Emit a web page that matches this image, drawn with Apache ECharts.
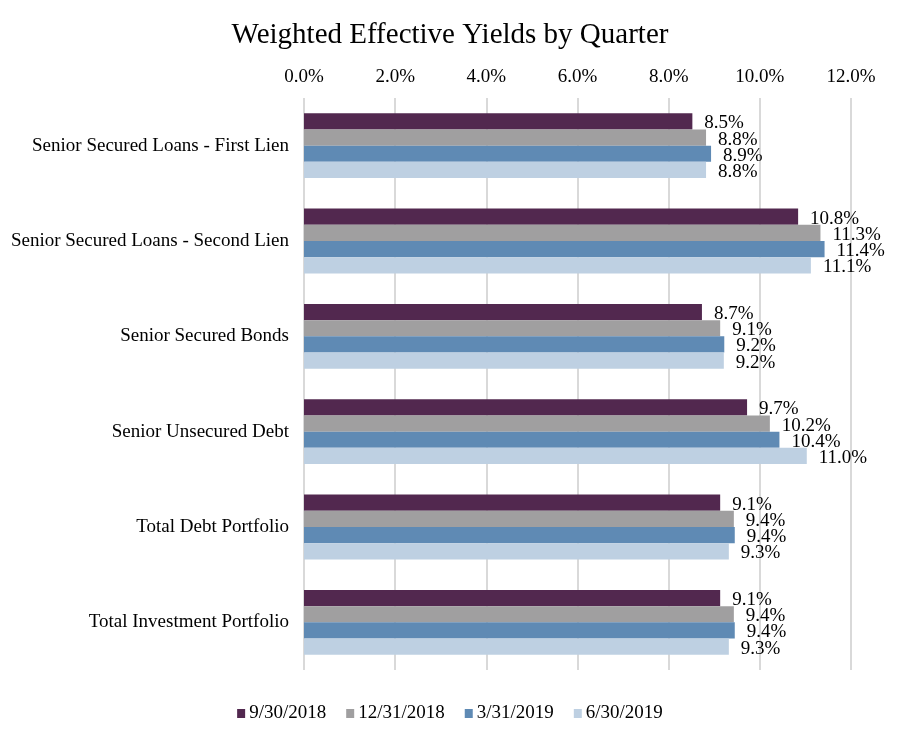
<!DOCTYPE html>
<html>
<head>
<meta charset="utf-8">
<script src="https://cdn.jsdelivr.net/npm/echarts@6/dist/echarts.min.js"></script>
<style>html,body{margin:0;padding:0;background:#fff;}#c{width:900px;height:739px;}</style>
</head>
<body>
<div id="c"></div>
<script>
const categories = [
  'Senior Secured Loans - First Lien',
  'Senior Secured Loans - Second Lien',
  'Senior Secured Bonds',
  'Senior Unsecured Debt',
  'Total Debt Portfolio',
  'Total Investment Portfolio'
];
const seriesNames = ['9/30/2018', '12/31/2018', '3/31/2019', '6/30/2019'];
const q3_2018 = [8.52, 10.84, 8.73, 9.72, 9.13, 9.13];
const q4_2018 = [8.82, 11.33, 9.13, 10.22, 9.43, 9.43];
const q1_2019 = [8.93, 11.42, 9.22, 10.43, 9.45, 9.45];
const q2_2019 = [8.82, 11.12, 9.21, 11.03, 9.32, 9.32];
const xTicks = { min: 0, max: 12, interval: 2 };
const colors = ['#52284F', '#A09FA0', '#5F8AB4', '#BED0E2'];

const font = 'Liberation Serif';
const chart = echarts.init(document.getElementById('c'));
const values = [q3_2018, q4_2018, q1_2019, q2_2019];
chart.setOption({
  animation: false,
  color: colors,
  title: {
    text: 'Weighted Effective Yields by Quarter',
    left: 'center',
    top: 16,
    textStyle: { fontFamily: font, fontSize: 29, fontWeight: 'normal', color: '#000' }
  },
  legend: {
    bottom: 11,
    left: 'center',
    icon: 'rect',
    itemWidth: 8,
    itemHeight: 9,
    itemGap: 20,
    textStyle: { fontFamily: font, fontSize: 19, color: '#000', padding: [0, 0, 0, -1] },
    data: seriesNames
  },
  grid: { left: 304, right: 49, top: 98, height: 572, containLabel: false },
  xAxis: {
    type: 'value',
    position: 'top',
    min: xTicks.min,
    max: xTicks.max,
    interval: xTicks.interval,
    axisLine: { show: false },
    axisTick: { show: false },
    axisLabel: {
      margin: 11,
      fontFamily: font, fontSize: 19, color: '#000',
      formatter: v => v.toFixed(1) + '%'
    },
    splitLine: { show: true, lineStyle: { color: '#D9D9D9', width: 2 } }
  },
  yAxis: {
    type: 'category',
    inverse: true,
    data: categories,
    axisLine: { show: false },
    axisTick: { show: false },
    axisLabel: { margin: 15, fontFamily: font, fontSize: 19, color: '#000' }
  },
  series: seriesNames.map((n, i) => ({
    name: n,
    type: 'bar',
    data: values[i],
    barGap: '0%',
    barCategoryGap: '32%',
    label: {
      show: true,
      position: 'right',
      distance: 12,
      offset: [0, 2],
      fontFamily: font, fontSize: 19, color: '#000',
      formatter: p => p.value.toFixed(1) + '%'
    }
  }))
});
</script>
</body>
</html>
